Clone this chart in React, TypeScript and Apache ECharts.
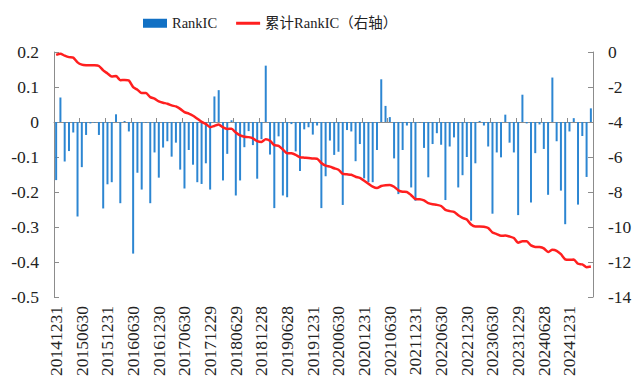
import React, { useEffect, useRef } from "react";
import * as echarts from "echarts";

const dates: string[] = [
  "20141231",
  "20150130", "20150227", "20150331", "20150430", "20150529", "20150630", "20150731", "20150831", "20150930", "20151030", "20151130", "20151231",
  "20160129", "20160229", "20160331", "20160429", "20160531", "20160630", "20160729", "20160831", "20160930", "20161031", "20161130", "20161230",
  "20170126", "20170228", "20170331", "20170428", "20170531", "20170630", "20170731", "20170831", "20170929", "20171031", "20171130", "20171229",
  "20180131", "20180228", "20180330", "20180427", "20180531", "20180629", "20180731", "20180831", "20180928", "20181031", "20181130", "20181228",
  "20190131", "20190228", "20190329", "20190430", "20190531", "20190628", "20190731", "20190830", "20190930", "20191031", "20191129", "20191231",
  "20200123", "20200228", "20200331", "20200430", "20200529", "20200630", "20200731", "20200831", "20200930", "20201030", "20201130", "20201231",
  "20210129", "20210226", "20210331", "20210430", "20210531", "20210630", "20210730", "20210831", "20210930", "20211029", "20211130", "20211231",
  "20220128", "20220228", "20220331", "20220429", "20220531", "20220630", "20220729", "20220831", "20220930", "20221031", "20221130", "20221230",
  "20230131", "20230228", "20230331", "20230428", "20230531", "20230630", "20230731", "20230831", "20230928", "20231031", "20231130", "20231229",
  "20240131", "20240229", "20240329", "20240430", "20240531", "20240628", "20240731", "20240830", "20240930", "20241031", "20241129", "20241231",
  "20250127", "20250228", "20250331", "20250430", "20250530",
];

// Monthly RankIC (left axis)
const rankIC: number[] = [
  -0.166,
  0.07, -0.113, -0.083, -0.03, -0.27, -0.129, -0.037, -0.004, -0.002, -0.037, -0.247, -0.178,
  -0.172, 0.022, -0.232, 0.003, -0.027, -0.376, -0.145, -0.193, -0.002, -0.232, -0.087, -0.159,
  -0.073, -0.055, -0.099, -0.059, -0.136, -0.19, -0.08, -0.122, -0.172, -0.177, -0.118, -0.193,
  0.073, 0.091, -0.167, -0.091, 0.005, -0.21, -0.167, -0.072, -0.026, -0.066, -0.162, -0.049,
  0.161, -0.093, -0.246, -0.041, -0.21, -0.215, -0.006, -0.084, -0.14, -0.021, -0.015, -0.036,
  -0.01, -0.246, -0.155, -0.053, -0.094, -0.085, -0.237, -0.023, -0.027, -0.112, -0.063, -0.161,
  -0.172, -0.172, -0.08, 0.122, 0.046, 0.014, -0.104, -0.206, -0.08, -0.01, -0.187, -0.225,
  -0.002, -0.074, -0.158, -0.063, -0.032, -0.065, -0.223, -0.07, -0.044, -0.187, -0.152, -0.1,
  -0.282, -0.118, 0.003, -0.01, -0.07, -0.262, -0.087, -0.101, 0.021, -0.059, -0.087, -0.266,
  0.078, -0.004, -0.23, -0.089, -0.007, -0.077, -0.208, 0.127, -0.055, -0.196, -0.292, -0.027,
  0.011, -0.236, -0.04, -0.157, 0.039,
];

const leftTicks = { min: -0.5, max: 0.2, interval: 0.1 };
const rightTicks = { min: -14, max: 0, interval: 2 };

const SERIF = "'Liberation Serif', 'Times New Roman', 'Noto Sans CJK SC', serif";

export default function App() {
  const ref = useRef<HTMLDivElement>(null);
  useEffect(() => {
    if (!ref.current) return;
    const chart = echarts.init(ref.current, undefined, { renderer: "svg" });
    // cumulative RankIC = running sum of monthly RankIC
    const cumulative: number[] = [];
    let acc = 0;
    for (const v of rankIC) {
      acc += v;
      cumulative.push(Number(acc.toFixed(3)));
    }
    const axisGrey = "#8c8c8c";
    const barBlue = "#2c86d2";
    const lineRed = "#ff1f1f";
    chart.setOption({
      animation: false,
      backgroundColor: "#ffffff",
      legend: {
        left: 138,
        top: 11,
        itemWidth: 24,
        itemHeight: 9,
        itemGap: 19,
        textStyle: { fontFamily: SERIF, fontSize: 14.5, color: "#222" },
        data: [
          { name: "RankIC", icon: "rect", itemStyle: { color: "#1170c4" } },
          {
            name: "累计RankIC（右轴）",
            icon: "path://M0,0H24V3H0Z",
            itemStyle: { color: lineRed },
          },
        ],
      },
      grid: { left: 54, right: 43, top: 52, bottom: 90, containLabel: false },
      xAxis: [
        {
          type: "category",
          data: dates,
          position: "bottom",
          axisLine: { show: false, onZero: false },
          axisTick: { show: false },
          axisLabel: {
            interval: 5,
            rotate: 90,
            margin: 9,
            fontFamily: SERIF,
            fontSize: 17.5,
            color: "#222",
          },
        },
        {
          type: "category",
          data: dates,
          position: "bottom",
          axisLine: { show: true, onZero: true, onZeroAxisIndex: 0, lineStyle: { color: axisGrey, width: 1 } },
          axisTick: { show: true, inside: true, interval: 5, length: 4, lineStyle: { color: axisGrey } },
          axisLabel: { show: false },
        },
      ],
      yAxis: [
        {
          type: "value",
          min: leftTicks.min,
          max: leftTicks.max,
          interval: leftTicks.interval,
          position: "left",
          splitLine: { show: false },
          axisLine: { show: true, lineStyle: { color: axisGrey } },
          axisTick: { show: true, inside: true, length: 5, lineStyle: { color: axisGrey } },
          axisLabel: {
            margin: 15,
            fontFamily: SERIF,
            fontSize: 17.5,
            color: "#222",
            formatter: (v: number) => String(Number(v.toFixed(1))),
          },
        },
        {
          type: "value",
          min: rightTicks.min,
          max: rightTicks.max,
          interval: rightTicks.interval,
          position: "right",
          splitLine: { show: false },
          axisLine: { show: true, lineStyle: { color: axisGrey } },
          axisTick: { show: true, inside: true, length: 5, lineStyle: { color: axisGrey } },
          axisLabel: {
            margin: 15,
            fontFamily: SERIF,
            fontSize: 17.5,
            color: "#222",
          },
        },
      ],
      series: [
        {
          name: "RankIC",
          type: "bar",
          xAxisIndex: 0,
          yAxisIndex: 0,
          data: rankIC,
          barWidth: 2,
          itemStyle: { color: barBlue },
        },
        {
          name: "累计RankIC（右轴）",
          type: "line",
          xAxisIndex: 0,
          yAxisIndex: 1,
          data: cumulative,
          symbol: "none",
          smooth: 0.2,
          lineStyle: { color: lineRed, width: 2.5 },
          itemStyle: { color: lineRed },
        },
      ],
    });
    return () => chart.dispose();
  }, []);
  return (
    <div
      ref={ref}
      style={{ position: "fixed", left: 0, top: 0, width: 636, height: 387, background: "#fff" }}
    />
  );
}
